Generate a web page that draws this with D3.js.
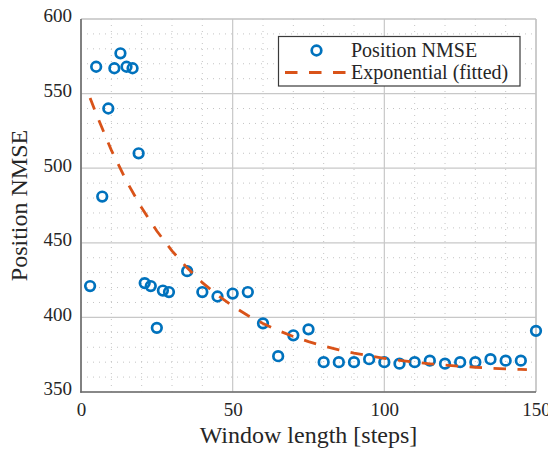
<!DOCTYPE html>
<html>
<head>
<meta charset="utf-8">
<script src="https://cdn.jsdelivr.net/npm/d3@7"></script>
<style>
  html, body { margin: 0; padding: 0; background: #fff; }
  svg { display: block; }
  svg text { font-family: "Liberation Serif", "Times New Roman", serif !important; }
</style>
</head>
<body>
<svg id="chart" width="548" height="452"></svg>
<script>
// Window length (steps) and the measured position NMSE at each window
const windowLengths = [3, 5, 7, 9, 11, 13, 15, 17, 19, 21, 23, 25, 27, 29, 35, 40, 45, 50, 55, 60,
                       65, 70, 75, 80, 85, 90, 95, 100, 105, 110, 115, 120, 125, 130, 135, 140, 145, 150];
const positionNmse  = [421, 568, 481, 540, 567, 577, 568, 567, 510, 423, 421, 393, 418, 417, 431, 417, 414, 416, 417, 396,
                       374, 388, 392, 370, 370, 370, 372, 370, 369, 370, 371, 369, 370, 370, 372, 371, 371, 391];

// Fitted exponential trend, sampled along the window axis
const fitWindow = [3, 5, 10, 15, 20, 25, 30, 35, 40, 45, 50, 55, 60, 65, 70, 75, 80, 85, 90, 95,
                   100, 105, 110, 115, 120, 125, 130, 135, 140, 145, 147];
const fitNmse   = [547.1, 536.4, 512.1, 491.3, 473.4, 457.9, 444.6, 433.2, 423.3, 414.9, 407.6, 401.3, 395.9, 391.2, 387.2, 383.8, 380.8, 378.3, 376.1, 374.2,
                   372.6, 371.2, 370.0, 368.9, 368.0, 367.2, 366.6, 366.0, 365.5, 365.1, 365.0];

// Axis ticks
const xTicks = [0, 50, 100, 150];
const yTicks = [350, 400, 450, 500, 550, 600];
const xMinor = d3.range(10, 150, 10).filter(v => v % 50 !== 0);
const yMinor = d3.range(360, 600, 10).filter(v => v % 50 !== 0);

const legendLabels = ["Position NMSE", "Exponential (fitted)"];

const W = 548, H = 452;
const margin = { left: 81, right: 12, top: 19, bottom: 60 };
const blue = "#0072BD", orange = "#D95319";
const serif = "'Liberation Serif', 'Times New Roman', serif";

const svg = d3.select("#chart");
const x = d3.scaleLinear().domain([0, 150]).range([margin.left, W - margin.right]);
const y = d3.scaleLinear().domain([350, 600]).range([H - margin.bottom, margin.top]);

// Minor grid (dotted)
const grid = svg.append("g");
grid.selectAll("line.xm").data(xMinor).join("line")
  .attr("x1", d => x(d)).attr("x2", d => x(d))
  .attr("y1", y(350)).attr("y2", y(600))
  .attr("stroke", "#c4c4c4").attr("stroke-width", 1).attr("stroke-dasharray", "1,5");
grid.selectAll("line.ym").data(yMinor).join("line")
  .attr("y1", d => y(d)).attr("y2", d => y(d))
  .attr("x1", x(0)).attr("x2", x(150))
  .attr("stroke", "#c4c4c4").attr("stroke-width", 1).attr("stroke-dasharray", "1,5");

// Major grid (solid)
grid.selectAll("line.xM").data(xTicks).join("line")
  .attr("x1", d => x(d)).attr("x2", d => x(d))
  .attr("y1", y(350)).attr("y2", y(600))
  .attr("stroke", "#c8c8c8").attr("stroke-width", 1.2);
grid.selectAll("line.yM").data(yTicks).join("line")
  .attr("y1", d => y(d)).attr("y2", d => y(d))
  .attr("x1", x(0)).attr("x2", x(150))
  .attr("stroke", "#c8c8c8").attr("stroke-width", 1.2);

// Axes via d3 axis generators (tick labels only; grid draws the lines)
const xAxis = svg.append("g")
  .attr("transform", `translate(0,${y(350)})`)
  .call(d3.axisBottom(x).tickValues(xTicks).tickSize(0).tickPadding(10).tickFormat(d3.format("d")));
const yAxis = svg.append("g")
  .attr("transform", `translate(${x(0)},0)`)
  .call(d3.axisLeft(y).tickValues(yTicks).tickSize(0).tickPadding(9).tickFormat(d3.format("d")));
[xAxis, yAxis].forEach(g => {
  g.attr("font-family", null);
  g.select(".domain").remove();
  g.selectAll("text").style("font-family", serif).attr("font-size", 19).attr("fill", "#262626");
});
yAxis.selectAll("text").attr("dy", "0.15em");
xAxis.selectAll("text").attr("dy", "0.75em");

// Box: dark left/bottom, light top/right
svg.append("line").attr("x1", x(0)).attr("x2", x(150)).attr("y1", y(600)).attr("y2", y(600))
  .attr("stroke", "#c0c0c0").attr("stroke-width", 1.2);
svg.append("line").attr("x1", x(150)).attr("x2", x(150)).attr("y1", y(350)).attr("y2", y(600))
  .attr("stroke", "#c0c0c0").attr("stroke-width", 1.2);
svg.append("line").attr("x1", x(0)).attr("x2", x(0)).attr("y1", y(350) + 0.8).attr("y2", y(600))
  .attr("stroke", "#6a6a6a").attr("stroke-width", 1.6);
svg.append("line").attr("x1", x(0) - 0.8).attr("x2", x(150)).attr("y1", y(350)).attr("y2", y(350))
  .attr("stroke", "#6a6a6a").attr("stroke-width", 1.6);

// Measured points
svg.append("g").selectAll("circle").data(windowLengths).join("circle")
  .attr("cx", d => x(d))
  .attr("cy", (d, i) => y(positionNmse[i]))
  .attr("r", 4.8)
  .attr("fill", "none").attr("stroke", blue).attr("stroke-width", 2.7);

// Fitted curve
const fitLine = d3.line().x(d => x(d[0])).y(d => y(d[1]));
svg.append("path")
  .datum(fitWindow.map((w, i) => [w, fitNmse[i]]))
  .attr("d", fitLine)
  .attr("fill", "none").attr("stroke", orange).attr("stroke-width", 2.8)
  .attr("stroke-dasharray", "12.5,11.5");

// Axis labels
svg.append("text")
  .attr("x", (x(0) + x(150)) / 2).attr("y", 443)
  .attr("text-anchor", "middle").attr("font-size", 24).attr("fill", "#262626")
  .style("font-family", serif)
  .text("Window length [steps]");
svg.append("text")
  .attr("transform", `translate(27,${(y(350) + y(600)) / 2}) rotate(-90)`)
  .attr("text-anchor", "middle").attr("font-size", 24).attr("fill", "#262626")
  .style("font-family", serif)
  .text("Position NMSE");

// Legend
const lg = svg.append("g");
lg.append("rect").attr("x", 278.5).attr("y", 36.5).attr("width", 241.5).attr("height", 49.5)
  .attr("fill", "#fff").attr("stroke", "#3a3a3a").attr("stroke-width", 1.2);
lg.append("circle").attr("cx", 316.5).attr("cy", 50.5).attr("r", 4.8)
  .attr("fill", "none").attr("stroke", blue).attr("stroke-width", 2.7);
lg.append("line").attr("x1", 285).attr("x2", 346).attr("y1", 72.5).attr("y2", 72.5)
  .attr("stroke", orange).attr("stroke-width", 2.8).attr("stroke-dasharray", "12.5,11.5");
lg.selectAll("text").data(legendLabels).join("text")
  .attr("x", 351).attr("y", (d, i) => 57 + i * 21.5)
  .attr("font-size", 20).attr("fill", "#262626")
  .style("font-family", serif)
  .text(d => d);
</script>
</body>
</html>
